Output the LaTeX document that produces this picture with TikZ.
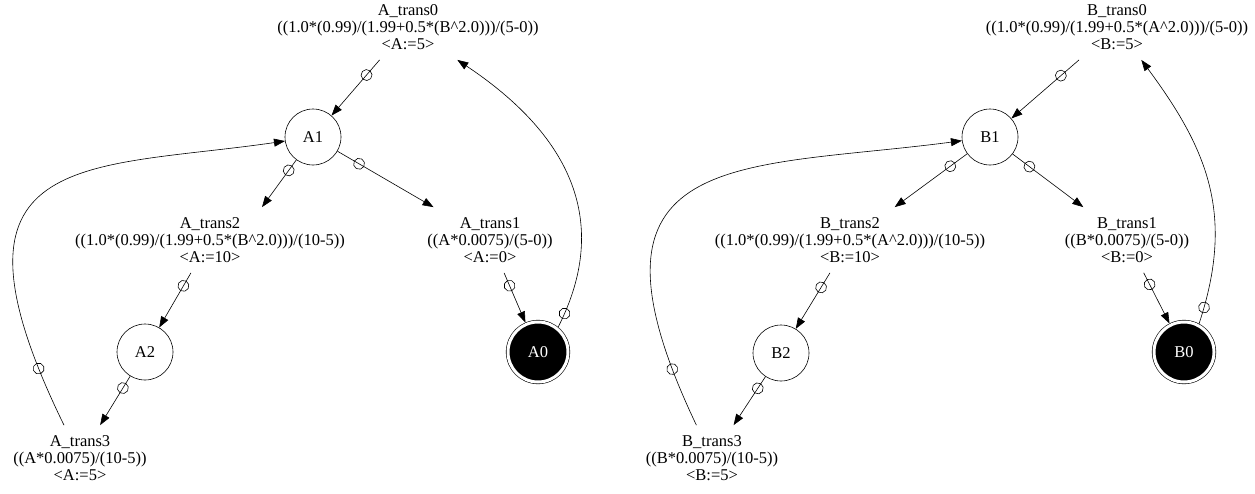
\documentclass[tikz,border=0pt]{standalone}
\usepackage{fontspec}
\setmainfont{Liberation Serif}
\usetikzlibrary{arrows.meta, decorations.markings}

\begin{document}
\begin{tikzpicture}[x=1pt, y=-1pt, font=\fontsize{16.5}{17}\selectfont, line width=0.6pt,
  pnode/.style={circle, draw, minimum size=56pt, inner sep=0pt},
  pinit/.style={circle, draw, fill=black, text=white, double, double distance=3pt,
    minimum size=60pt, inner sep=0pt, outer sep=2pt},
  tnode/.style={align=center, inner xsep=2pt, inner ysep=10pt},
  flow/.style={-{Triangle[length=11pt, width=8pt]}},
  tok/.style={postaction={decorate}, decoration={markings,
    mark=at position #1 with {\draw[arrows=-] (0,0) circle (5.5pt);}}}]
  \path[use as bounding box, fill=white] (0,0) rectangle (1255,493);

  % net A
  \node[tnode] (at0) at (408,27) {A\_trans0\\((1.0*(0.99)/(1.99+0.5*(B\textasciicircum 2.0)))/(5-0))\\<A:=5>};
  \node[pnode] (a1) at (313,137) {A1};
  \node[tnode] (at2) at (210,240) {A\_trans2\\((1.0*(0.99)/(1.99+0.5*(B\textasciicircum 2.0)))/(10-5))\\<A:=10>};
  \node[tnode] (at1) at (490,240) {A\_trans1\\((A*0.0075)/(5-0))\\<A:=0>};
  \node[pnode] (a2) at (145,352) {A2};
  \node[pinit] (a0) at (538,352) {A0};
  \node[tnode] (at3) at (80,458) {A\_trans3\\((A*0.0075)/(10-5))\\<A:=5>};

  \draw[flow, tok=20pt] (at0) -- (a1);
  \draw[flow, tok=13pt] (a1) -- ([xshift=52pt]at2.north);
  \draw[flow, tok=25pt] (a1) -- (at1);
  \draw[flow, tok=15pt] (at2) -- (a2);
  \draw[flow, tok=14pt] (a2) -- (at3);
  \draw[flow, tok=14pt] (at1) -- (a0);
  \draw[flow, tok=15pt] (a0.51) .. controls (605,235) and (585,145) .. (at0);
  \draw[flow, tok=62pt] (at3) .. controls (-72,147) and (85,170) .. (a1);

  % net B
  \node[tnode] (bt0) at (1117,27) {B\_trans0\\((1.0*(0.99)/(1.99+0.5*(A\textasciicircum 2.0)))/(5-0))\\<B:=5>};
  \node[pnode] (b1) at (990,137) {B1};
  \node[tnode] (bt2) at (850,240) {B\_trans2\\((1.0*(0.99)/(1.99+0.5*(A\textasciicircum 2.0)))/(10-5))\\<B:=10>};
  \node[tnode] (bt1) at (1127,240) {B\_trans1\\((B*0.0075)/(5-0))\\<B:=0>};
  \node[pnode] (b2) at (781,353) {B2};
  \node[pinit] (b0) at (1184,352) {B0};
  \node[tnode] (bt3) at (712,458) {B\_trans3\\((B*0.0075)/(10-5))\\<B:=5>};

  \draw[flow, tok=24pt] (bt0) -- (b1);
  \draw[flow, tok=21pt] (b1) -- (bt2);
  \draw[flow, tok=21pt] (b1) -- (bt1);
  \draw[flow, tok=17pt] (bt2) -- (b2);
  \draw[flow, tok=14pt] (b2) -- (bt3);
  \draw[flow, tok=13pt] (bt1) -- (b0);
  \draw[flow, tok=17pt] (b0.62) .. controls (1235,215) and (1208,150) .. (bt0);
  \draw[flow, tok=61pt] (bt3) .. controls (563,145) and (740,170) .. (b1);
\end{tikzpicture}
\end{document}
